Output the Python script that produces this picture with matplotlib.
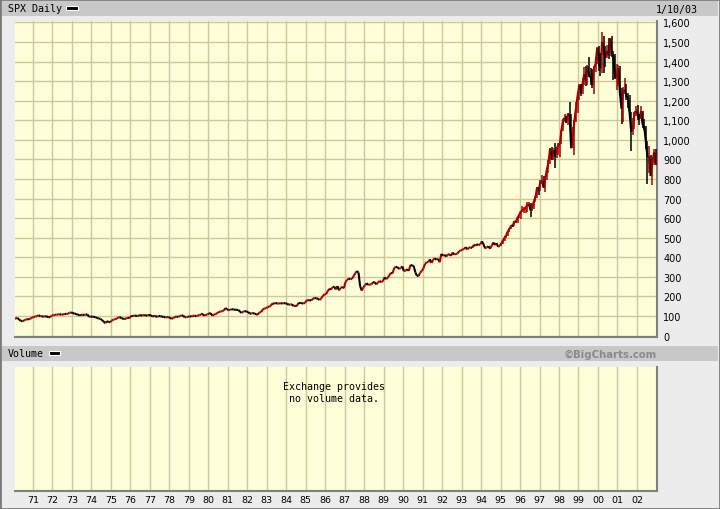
import matplotlib
matplotlib.use('Agg')
import matplotlib.pyplot as plt
from matplotlib.collections import LineCollection
from matplotlib.patches import Rectangle
import numpy as np

# monthly closes (Jan 1970 .. Jan 2003)
close_70s = [85.0, 89.5, 89.6, 81.5, 76.6, 72.7, 78.1, 81.5, 84.3, 83.3, 87.2, 92.2,
             95.9, 96.8, 100.3, 103.9, 99.6, 99.7, 95.6, 99.0, 98.3, 94.2, 94.0, 102.1,
             103.9, 106.6, 107.2, 107.7, 109.5, 107.1, 107.4, 111.1, 110.6, 111.6, 116.7, 118.1,
             116.0, 111.7, 111.5, 107.0, 105.0, 104.3, 108.2, 104.3, 108.4, 108.3, 96.0, 97.6,
             96.6, 96.2, 94.0, 90.3, 87.3, 86.0, 79.3, 72.2, 63.5, 73.9, 70.0, 68.6,
             77.0, 81.6, 83.4, 87.3, 91.2, 95.2, 88.8, 86.9, 83.9, 89.0, 91.2, 90.2,
             100.9, 99.7, 102.8, 101.6, 100.2, 104.3, 103.4, 102.9, 105.2, 102.9, 102.1, 107.5,
             102.0, 99.8, 98.4, 98.4, 96.1, 100.5, 98.9, 96.8, 96.5, 92.3, 94.8, 95.1,
             89.3, 87.0, 89.2, 96.8, 97.2, 95.5, 100.7, 103.3, 102.5, 93.2, 94.7, 96.1,
             99.9, 96.3, 101.6, 101.8, 99.1, 102.9, 103.8, 109.3, 109.3, 101.8, 106.2, 107.9]
close_80s = [114.2, 113.7, 102.1, 106.3, 111.2, 114.2, 121.7, 122.4, 125.5, 127.5, 140.5, 135.8,
             129.5, 131.3, 136.0, 132.8, 132.6, 131.2, 130.9, 122.8, 116.2, 121.9, 126.4, 122.6,
             120.4, 113.1, 112.0, 116.4, 111.9, 109.6, 107.1, 119.5, 120.4, 133.7, 138.5, 140.6,
             145.3, 148.1, 153.0, 164.4, 162.4, 168.1, 162.6, 164.4, 166.1, 163.6, 166.4, 164.9,
             163.4, 157.1, 159.2, 160.1, 150.6, 153.2, 150.7, 166.7, 166.1, 166.1, 163.6, 167.2,
             179.6, 181.2, 180.7, 179.8, 189.6, 191.9, 190.9, 188.6, 182.1, 189.8, 202.2, 211.3,
             211.8, 226.9, 238.9, 235.5, 247.4, 250.8, 236.1, 252.9, 231.3, 244.0, 249.2, 242.2,
             274.1, 284.2, 291.7, 288.4, 290.1, 304.0, 318.7, 329.8, 321.8, 251.8, 230.3, 247.1,
             257.1, 267.8, 258.9, 261.3, 262.2, 273.5, 272.0, 261.5, 271.9, 279.0, 273.7, 277.7,
             297.5, 288.9, 294.9, 309.6, 320.5, 318.0, 346.1, 351.5, 349.2, 340.4, 346.0, 353.4]
close_90s = [329.1, 331.9, 339.9, 330.8, 361.2, 358.0, 356.2, 322.6, 306.1, 304.0, 322.2, 330.2,
             343.9, 367.1, 375.2, 375.3, 389.8, 371.2, 387.8, 395.4, 387.9, 392.5, 375.2, 417.1,
             408.8, 412.7, 403.7, 415.0, 415.4, 408.1, 424.2, 414.0, 417.8, 418.7, 431.4, 435.7,
             438.8, 443.4, 451.7, 440.2, 450.2, 450.5, 448.1, 463.6, 458.9, 467.8, 461.8, 466.5,
             481.6, 467.1, 445.8, 450.9, 456.5, 444.3, 458.3, 475.5, 462.7, 472.4, 453.7, 459.3,
             470.4, 487.4, 500.7, 514.7, 533.4, 544.8, 562.1, 561.9, 584.4, 581.5, 605.4, 615.9,
             636.0, 640.4, 645.5, 654.2, 669.1, 670.6, 640.0, 652.0, 687.3, 705.3, 757.0, 740.7,
             786.2, 790.8, 757.1, 801.3, 848.3, 885.1, 954.3, 899.5, 947.3, 914.6, 955.4, 970.4,
             980.3, 1049.3, 1101.8, 1111.8, 1090.8, 1133.8, 1120.7, 957.3, 1017.0, 1098.7, 1163.6, 1229.2,
             1279.6, 1238.3, 1286.4, 1335.2, 1301.8, 1372.7, 1328.7, 1320.4, 1282.7, 1362.9, 1388.9, 1469.3]
close_00s = [1394.5, 1366.4, 1498.6, 1452.4, 1420.6, 1454.6, 1430.8, 1517.7, 1436.5, 1429.4, 1315.2, 1320.3,
             1366.0, 1239.9, 1160.3, 1249.5, 1255.8, 1224.4, 1211.2, 1133.6, 1040.9, 1059.8, 1139.5, 1148.1,
             1130.2, 1106.7, 1147.4, 1076.9, 1067.1, 989.8, 911.6, 916.1, 815.3, 885.8, 936.3, 879.8,
             927.6]

# monthly high / low, Jan 1995 .. Jan 2003 (where the daily range is visible)
high_95on = [471, 488, 504, 515, 534, 550, 563, 564, 586, 587, 608, 622,
             638, 664, 656, 656, 681, 680, 677, 670, 690, 714, 758, 760,
             794, 818, 816, 809, 851, 898, 957, 961, 960, 983, 960, 986,
             993, 1052, 1106, 1131, 1123, 1139, 1191, 1132, 1066, 1103, 1192, 1244,
             1283, 1285, 1317, 1372, 1376, 1380, 1422, 1367, 1361, 1376, 1423, 1474,
             1478, 1444, 1553, 1528, 1481, 1483, 1518, 1520, 1531, 1454, 1438, 1389,
             1383, 1377, 1267, 1269, 1316, 1287, 1239, 1231, 1142, 1111, 1143, 1174,
             1176, 1131, 1173, 1147, 1107, 1070, 994, 966, 925, 908, 951, 954,
             930]
low_95on = [459, 469, 481, 501, 510, 528, 544, 553, 561, 573, 576, 600,
            597, 632, 627, 624, 634, 660, 605, 638, 649, 684, 702, 716,
            737, 773, 756, 733, 794, 829, 879, 897, 896, 855, 905, 925,
            912, 978, 1044, 1092, 1087, 1077, 1117, 957, 960, 923, 1093, 1136,
            1205, 1223, 1234, 1282, 1277, 1281, 1323, 1281, 1263, 1233, 1347, 1387,
            1350, 1325, 1339, 1340, 1373, 1420, 1415, 1428, 1421, 1305, 1313, 1254,
            1274, 1228, 1082, 1091, 1232, 1203, 1165, 1124, 945, 1027, 1054, 1123,
            1101, 1074, 1106, 1063, 1048, 952, 776, 833, 815, 768, 872, 872,
            879]

years = list(range(1971, 2003))
year_labels = ["%02d" % (y % 100) for y in years]
price_ticks = list(range(0, 1700, 100))

closes = np.array(close_70s + close_80s + close_90s + close_00s)
x = 1970 + (np.arange(len(closes)) + 0.5) / 12
x_hl = x[-len(high_95on):]

W, H = 720, 510
RED, BLACK = '#a80000', '#000000'
FACE = '#fefed9'
GRID = '#cbc995'
mono = 'DejaVu Sans Mono'

fig = plt.figure(figsize=(W / 100, H / 100), dpi=100, facecolor='#ececec')


def px_rect(x0, y0, x1, y1, **kw):
    fig.patches.append(Rectangle((x0 / W, 1 - y1 / H), (x1 - x0) / W, (y1 - y0) / H,
                                 transform=fig.transFigure, **kw))


def fx(px):
    return px / W


def fy(py):
    return 1 - py / H


# header bars and frame
px_rect(2, 2, 718, 17, color='#c8c8c8', lw=0)
px_rect(2, 347, 718, 362, color='#c8c8c8', lw=0)
px_rect(0, 0, 720, 510, fill=False, edgecolor='#7a7a7a', lw=2)
px_rect(66, 7, 78, 11, facecolor='black', edgecolor='white', lw=0.8)
px_rect(49, 352, 60, 356, facecolor='black', edgecolor='white', lw=0.8)

fig.text(fx(8), fy(9.5), "SPX Daily", family=mono, fontsize=7.2, va='center', ha='left')
fig.text(fx(698), fy(9.5), "1/10/03", family=mono, fontsize=7.2, va='center', ha='right')
fig.text(fx(8), fy(354.5), "Volume", family=mono, fontsize=7.2, va='center', ha='left')
fig.text(fx(657), fy(354.5), "\u00a9BigCharts.com", family='DejaVu Sans', weight='bold',
         fontsize=7.3, color='#8a8a8a', va='center', ha='right')

# price panel
ax = fig.add_axes([fx(15), fy(338), (657 - 15) / W, (338 - 22) / H])
ax.set_facecolor(FACE)
ax.set_xlim(1970.076, 2003.03)
ax.set_ylim(-7, 1607)
ax.set_xticks(years)
ax.set_yticks(price_ticks)
ax.set_yticklabels(["{:,}".format(v) for v in price_ticks], family='DejaVu Sans', fontsize=7)
ax.yaxis.tick_right()
ax.tick_params(length=0, labelbottom=False, pad=4.5)
ax.grid(color=GRID, lw=1.0)
ax.set_axisbelow(True)
for s in ['top', 'left']:
    ax.spines[s].set_visible(False)
for s in ['bottom', 'right']:
    ax.spines[s].set_color('#808080')
    ax.spines[s].set_linewidth(1.5)

pts = np.column_stack([x, closes])
segs = np.stack([pts[:-1], pts[1:]], axis=1)
seg_colors = [RED if b >= a else BLACK for a, b in zip(closes[:-1], closes[1:])]
ax.add_collection(LineCollection(segs, colors=seg_colors, linewidths=1.5, zorder=3))

hl_closes = closes[-len(high_95on):]
prev = closes[-len(high_95on) - 1:-1]
hl_colors = [RED if c >= p else BLACK for c, p in zip(hl_closes, prev)]
ax.vlines(x_hl, low_95on, high_95on, colors=hl_colors, lw=1.1, zorder=4)

# volume panel
ax2 = fig.add_axes([fx(15), fy(492), (657 - 15) / W, (492 - 368) / H])
ax2.set_facecolor(FACE)
ax2.set_xlim(1970.076, 2003.03)
ax2.set_ylim(0, 1)
ax2.set_xticks(years)
ax2.set_xticklabels(year_labels, family='DejaVu Sans', fontsize=6.8)
ax2.set_yticks([])
ax2.tick_params(length=0, pad=3)
ax2.grid(axis='x', color=GRID, lw=1.0)
ax2.set_axisbelow(True)
for s in ['top', 'left']:
    ax2.spines[s].set_visible(False)
for s in ['bottom', 'right']:
    ax2.spines[s].set_color('#808080')
    ax2.spines[s].set_linewidth(1.5)
fig.text(fx(334), fy(387), "Exchange provides", family=mono, fontsize=7.2, ha='center', va='center')
fig.text(fx(334), fy(399), "no volume data.", family=mono, fontsize=7.2, ha='center', va='center')

fig.savefig('out.png', dpi=100, facecolor=fig.get_facecolor())
